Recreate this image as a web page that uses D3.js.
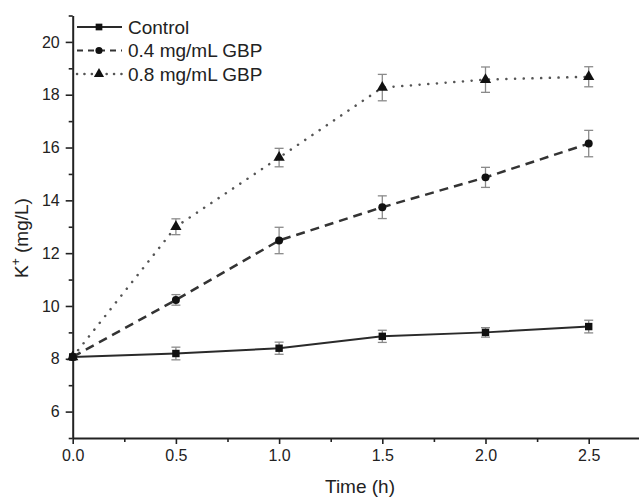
<!DOCTYPE html>
<head>
<meta charset="utf-8">
<style>
html, body { margin:0; padding:0; overflow:hidden; background:#fff; }
svg { display:block; }
text { font-family: 'Liberation Sans', Arial, sans-serif; fill:#222; }
</style>
</head>
<body>
<svg id="stage" width="639" height="498"></svg>
<script src="https://d3js.org/d3.v7.min.js"></script>
<script>
// data
var times = [0, 0.5, 1.0, 1.5, 2.0, 2.5];
var control = [8.07, 8.2, 8.4, 8.85, 9.0, 9.22];
var controlErr = [0.08, 0.24, 0.23, 0.23, 0.18, 0.24];
var gbp04 = [8.07, 10.23, 12.48, 13.74, 14.87, 16.15];
var gbp04Err = [0.08, 0.2, 0.5, 0.43, 0.38, 0.5];
var gbp08 = [8.07, 13.0, 15.62, 18.27, 18.57, 18.68];
var gbp08Err = [0.08, 0.3, 0.35, 0.5, 0.48, 0.38];
var xTicks = [0, 0.5, 1.0, 1.5, 2.0, 2.5];
var xMinor = [0.25, 0.75, 1.25, 1.75, 2.25];
var yTicks = [6, 8, 10, 12, 14, 16, 18, 20];
var yMinor = [5, 7, 9, 11, 13, 15, 17, 19, 21];
var names = ["Control", "0.4 mg/mL GBP", "0.8 mg/mL GBP"];

var series = [
  { name: names[0], vals: control, err: controlErr, kind: "solid", sym: d3.symbolSquare, size: 55 },
  { name: names[1], vals: gbp04, err: gbp04Err, kind: "dash", sym: d3.symbolCircle, size: 50 },
  { name: names[2], vals: gbp08, err: gbp08Err, kind: "dot", sym: d3.symbolTriangle, size: 55 }
];

function styleLine(sel, kind, legend) {
  if (kind == "solid") {
    sel.attr("stroke", "#2a2a2a").attr("stroke-width", 2);
  } else if (kind == "dash") {
    sel.attr("stroke", "#333").attr("stroke-width", legend ? 2 : 2.5)
      .attr("stroke-dasharray", legend ? "6,5" : "9,6");
  } else {
    sel.attr("stroke", "#555").attr("stroke-width", 2.5)
      .attr("stroke-dasharray", legend ? "0.1,7.3" : "0.1,8.6").attr("stroke-linecap", "round");
  }
  return sel;
}

var svg = d3.select("#stage");

var x = d3.scaleLinear().domain([0, 2.75]).range([72.7, 640.3]);
var y = d3.scaleLinear().domain([5, 21]).range([438, 15.5]);

// axes
var gx = svg.append("g").attr("transform", "translate(0," + y(5) + ")");
gx.call(d3.axisBottom(x).tickValues(xTicks).tickFormat(d3.format(".1f")).tickSize(6).tickSizeOuter(0).tickPadding(6));
gx.append("g").call(d3.axisBottom(x).tickValues(xMinor).tickFormat("").tickSize(4).tickSizeOuter(0))
  .select(".domain").remove();

var gy = svg.append("g").attr("transform", "translate(" + x(0) + ",0)");
gy.call(d3.axisLeft(y).tickValues(yTicks).tickSize(7).tickSizeOuter(0).tickPadding(6));
gy.append("g").call(d3.axisLeft(y).tickValues(yMinor).tickFormat("").tickSize(4).tickSizeOuter(0))
  .select(".domain").remove();

svg.selectAll(".domain").attr("stroke", "#222").attr("stroke-width", 2);
svg.selectAll(".tick line").attr("stroke", "#222").attr("stroke-width", 1.6);
svg.selectAll(".tick text").attr("font-size", 16).attr("fill", "#222")
  .attr("font-family", "'Liberation Sans', Arial, sans-serif");

// axis titles
svg.append("text").attr("x", 360).attr("y", 493).attr("text-anchor", "middle")
  .attr("font-size", 19).text("Time (h)");
var yl = svg.append("text").attr("transform", "translate(28,238) rotate(-90)")
  .attr("text-anchor", "middle").attr("font-size", 19);
yl.append("tspan").text("K");
yl.append("tspan").attr("font-size", 12).attr("dy", -8).text("+");
yl.append("tspan").attr("dy", 8).text(" (mg/L)");

var line = d3.line().x(function(d, i) { return x(times[i]); }).y(function(d) { return y(d); });

series.forEach(function(s) {
  var g = svg.append("g");
  // error bars
  s.vals.forEach(function(v, i) {
    if (i == 0) return;
    var cx = x(times[i]);
    var t = y(v + s.err[i]), b = y(v - s.err[i]);
    g.append("line").attr("x1", cx).attr("x2", cx).attr("y1", t).attr("y2", b)
      .attr("stroke", "#8a8a8a").attr("stroke-width", 1.3);
    [t, b].forEach(function(yy) {
      g.append("line").attr("x1", cx - 4.5).attr("x2", cx + 4.5).attr("y1", yy).attr("y2", yy)
        .attr("stroke", "#8a8a8a").attr("stroke-width", 1.3);
    });
  });
  styleLine(g.append("path").attr("d", line(s.vals)).attr("fill", "none"), s.kind, false);
  g.selectAll("path.pt").data(s.vals).enter().append("path").attr("class", "pt")
    .attr("d", d3.symbol().type(s.sym).size(s.size))
    .attr("transform", function(d, i) { return "translate(" + x(times[i]) + "," + y(d) + ")"; })
    .attr("fill", "#111");
});

// legend
var lg = svg.append("g");
series.forEach(function(s, i) {
  var ly = 27 + i * 23.5;
  styleLine(lg.append("line").attr("x1", 77).attr("x2", 122).attr("y1", ly).attr("y2", ly), s.kind, true);
  lg.append("path").attr("d", d3.symbol().type(s.sym).size(s.size - 10))
    .attr("transform", "translate(99," + ly + ")").attr("fill", "#111");
  lg.append("text").attr("x", 128).attr("y", ly).attr("dy", "0.35em")
    .attr("font-size", 19).text(s.name);
});
</script>
</body>
</html>
